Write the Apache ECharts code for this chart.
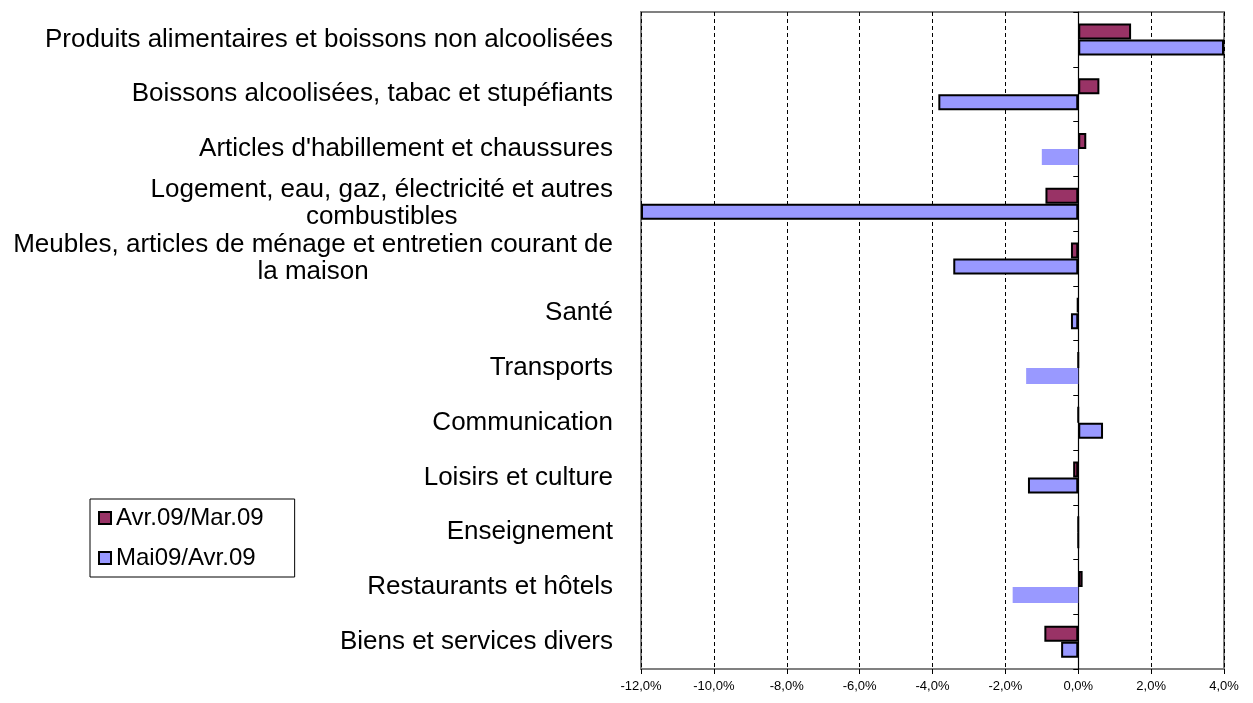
<!DOCTYPE html>
<html>
<head>
<meta charset="utf-8">
<script src="https://cdn.jsdelivr.net/npm/echarts@6/dist/echarts.min.js"></script>
<style>
  html, body { margin: 0; padding: 0; background: #fff; }
  #main { width: 1253px; height: 703px; }
</style>
</head>
<body>
<div id="main"></div>
<script>
// catégories (de haut en bas)
const categories = [
  'Produits alimentaires et boissons non alcoolisées',
  'Boissons alcoolisées, tabac et stupéfiants',
  "Articles d'habillement et chaussures",
  'Logement, eau, gaz, électricité et autres\ncombustibles',
  'Meubles, articles de ménage et entretien courant de\nla maison',
  'Santé',
  'Transports',
  'Communication',
  'Loisirs et culture',
  'Enseignement',
  'Restaurants et hôtels',
  'Biens et services divers'
]
const seriesNames = ['Avr.09/Mar.09', 'Mai09/Avr.09']
// variations en %
const avrMar = [1.45, 0.58, 0.22, -0.9, -0.2, -0.03, 0.0, 0.0, -0.14, 0.0, 0.12, -0.93]
const maiAvr = [4.0, -3.84, -1.0, -12.0, -3.43, -0.2, -1.43, 0.68, -1.38, 0.0, -1.8, -0.47]
const xTicks = [-12, -10, -8, -6, -4, -2, 0, 2, 4]

// barres sans bordure dans l'original
const noBorder = [2, 6, 10]

const font = 'Liberation Sans, Arial, sans-serif'
const myChart = echarts.init(document.querySelector('#main'))

const option = {
  animation: false,
  legend: {
    orient: 'vertical',
    left: 90,
    top: 499,
    data: seriesNames,
    icon: 'rect',
    itemWidth: 12,
    itemHeight: 12,
    itemGap: 16,
    padding: [7, 31, 7, 8],
    borderColor: '#000',
    borderWidth: 1,
    textStyle: { fontSize: 24, color: '#000', fontFamily: font }
  },
  grid: {
    left: 641,
    right: 29,
    top: 12,
    bottom: 34,
    show: true,
    borderColor: '#808080',
    borderWidth: 2
  },
  xAxis: {
    type: 'value',
    min: xTicks[0],
    max: xTicks[xTicks.length - 1],
    interval: 2,
    axisLine: { onZero: false, lineStyle: { color: '#000', width: 1.5 } },
    axisTick: { show: true, length: 5, lineStyle: { color: '#000' } },
    axisLabel: {
      color: '#000',
      fontSize: 13,
      fontFamily: font,
      margin: 11,
      formatter: v => v.toFixed(1).replace('.', ',') + '%'
    },
    splitLine: { show: true, lineStyle: { color: '#000', type: [4, 3], width: 1 } }
  },
  yAxis: [
    {
      type: 'category',
      data: categories,
      inverse: true,
      position: 'left',
      axisLine: { show: false, onZero: false },
      axisTick: { show: false },
      axisLabel: {
        margin: 28,
        color: '#000',
        fontSize: 26,
        fontFamily: font,
        lineHeight: 27,
        interval: 0,
        formatter: v => v.split('\n').map(s => '{c|' + s + '}').join('\n'),
        rich: {
          c: { align: 'center', fontSize: 26, fontFamily: font, color: '#000', lineHeight: 27 }
        }
      }
    },
    {
      // ligne du zéro avec ses graduations (placée à droite par ECharts, donc ticks "inside")
      type: 'category',
      data: categories,
      inverse: true,
      axisLine: { show: true, onZero: true, lineStyle: { color: '#000', width: 1.2 } },
      axisTick: { show: true, inside: true, length: 5, lineStyle: { color: '#000' } },
      axisLabel: { show: false },
      splitLine: { show: false }
    }
  ],
  series: [
    {
      name: seriesNames[0],
      type: 'bar',
      yAxisIndex: 0,
      barWidth: 16,
      barGap: '0%',
      itemStyle: { color: '#993366', borderColor: '#000', borderWidth: 2 },
      data: avrMar
    },
    {
      name: seriesNames[1],
      type: 'bar',
      yAxisIndex: 0,
      barWidth: 16,
      barGap: '0%',
      itemStyle: { color: '#9999ff', borderColor: '#000', borderWidth: 2 },
      data: maiAvr.map((v, i) => noBorder.includes(i) ? { value: v, itemStyle: { borderWidth: 0 } } : v)
    }
  ]
}
myChart.setOption(option)
</script>
</body>
</html>
